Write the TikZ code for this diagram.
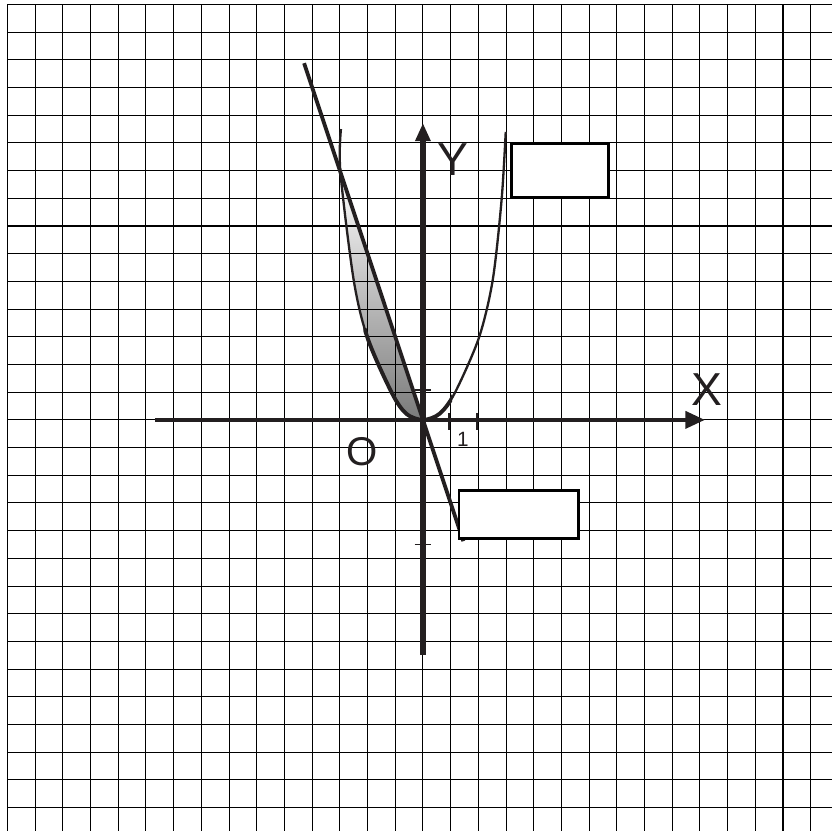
\documentclass[tikz,border=0pt]{standalone}
\usepackage{fontspec}
\setmainfont{Liberation Sans}
\usetikzlibrary{arrows.meta}
\definecolor{ink}{RGB}{35,31,32}

\tikzset{
  gridline/.style={line width=0.85pt,black},
  curve/.style={line width=1.9pt,ink},
  tickmark/.style={line width=1.6pt,ink},
  answerbox/.style={draw=black,line width=2.2pt,fill=white,inner sep=0pt},
  letter/.style={inner sep=0pt,ink,font=\fontsize{38}{38}\selectfont}
}

\begin{document}
\begin{tikzpicture}[x=0.8cm,y=0.8cm]
  \def\Xa{-15.27}  % left edge of the sheet
  \def\Xb{14.77}   % right edge
  \def\Ya{-14.84}  % bottom edge
  \def\Yb{15.16}   % top edge

  \useasboundingbox (\Xa,\Ya) rectangle (\Xb,\Yb);
  \clip (\Xa,\Ya) rectangle (\Xb,\Yb);

  % region between the line and the parabola
  \shade[top color=white,middle color=black!35,bottom color=black!52]
    plot[smooth] coordinates {(-2.98,8.95) (-2.5,5.05) (-2.0,2.96) (-1.12,0.97) (-0.6,0.22) (0,0)}
    -- cycle;

  % squared paper
  \draw[gridline,step=0.8cm] (-15,-15) grid (15,15);

  % axes
  \draw[ink,line width=2.9pt,-{Triangle[length=16pt,width=14pt]}] (-9.68,0) -- (10.18,0);
  \draw[ink,line width=4.6pt,-{Triangle[length=15pt,width=12pt]}] (0,-8.48) -- (0,10.72);

  % unit marks
  \foreach \t in {0.95,1.96}
    \draw[tickmark] (\t,0.25) -- (\t,-0.35);
  \foreach \t in {1.08,-4.5}
    \draw[tickmark] (-0.3,\t) -- (0.3,\t);

  % parabola, heavier near the vertex
  \draw[curve] plot[smooth] coordinates {(-2.96,10.5) (-2.98,8.95) (-2.5,5.05) (-2.0,2.96)
    (-1.12,0.97) (-0.6,0.22) (0,0) (0.6,0.22) (1.15,0.97) (2.02,2.96) (2.52,5.05)
    (2.84,7.94) (2.99,10.4)};
  \begin{scope}
    \clip (-2.15,-1) rectangle (1.05,3.3);
    \draw[curve,line width=3.2pt] plot[smooth] coordinates {(-2.96,10.5) (-2.98,8.95) (-2.5,5.05) (-2.0,2.96)
      (-1.12,0.97) (-0.6,0.22) (0,0) (0.6,0.22) (1.15,0.97) (2.02,2.96) (2.52,5.05)
      (2.84,7.94) (2.99,10.4)};
  \end{scope}

  % straight line through the origin
  \coordinate (lineTop) at (-4.29,12.88);
  \coordinate (lineEnd) at (1.46,-4.38);
  \draw[ink,line width=3.1pt] (lineTop) -- (lineEnd);

  % empty answer boxes
  \node[answerbox,minimum width=2.8cm,minimum height=1.53cm] (boxTop) at (4.96,9.0) {};
  \node[answerbox,minimum width=3.45cm,minimum height=1.38cm] (boxLow) at (3.455,-3.41) {};

  % labels
  \node[letter] (labY) at (1.08,9.39) {Y};
  \node[letter] (labX) at (10.25,1.08) {X};
  \node[letter,font=\fontsize{33}{33}\selectfont] (labO) at (-2.2,-1.16) {O};
  \node[inner sep=0pt,ink,font=\fontsize{17}{17}\selectfont] (labOne) at (1.44,-0.72) {1};
\end{tikzpicture}
\end{document}
